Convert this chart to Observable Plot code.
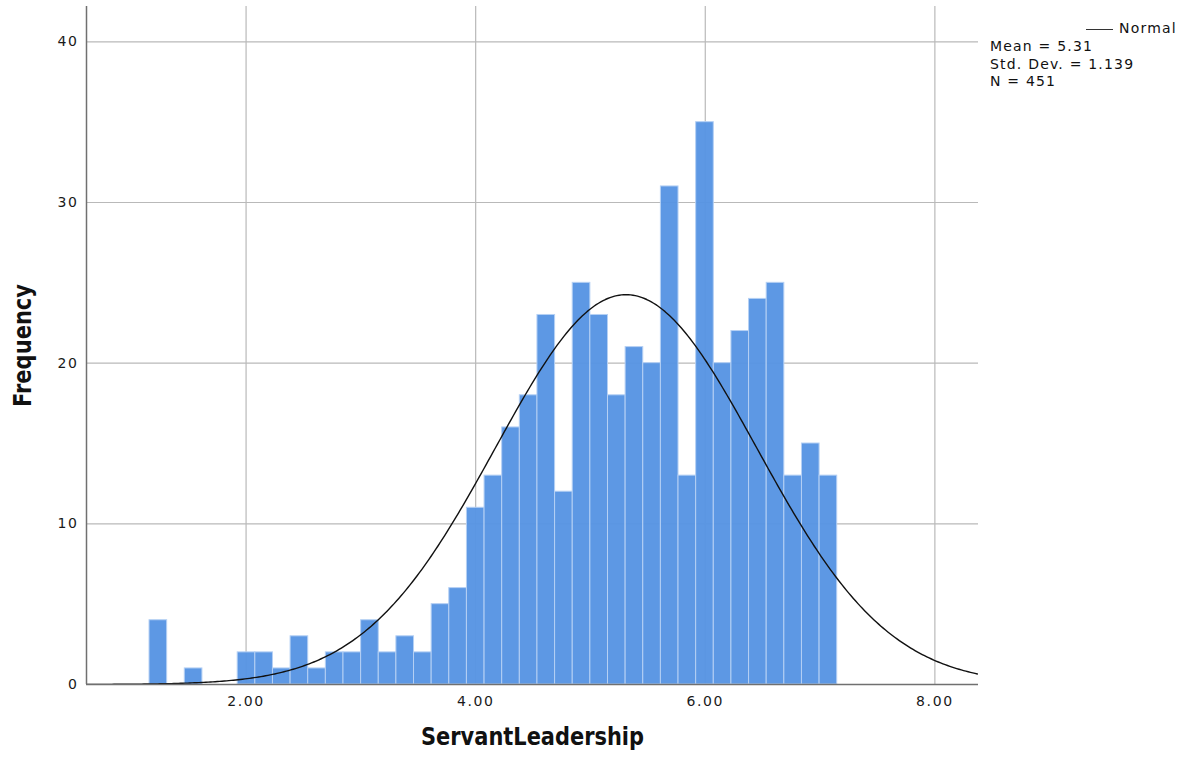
<!DOCTYPE html>
<html>
<head>
<meta charset="utf-8">
<script src="https://cdn.jsdelivr.net/npm/d3@7"></script>
<script src="https://cdn.jsdelivr.net/npm/@observablehq/plot@0.6"></script>
<style>
  html, body { margin: 0; padding: 0; background: #fff; }
  #wrap { position: relative; width: 1188px; height: 762px; }
  .leg { position: absolute; font-family: "DejaVu Sans", sans-serif; font-size: 14px; letter-spacing: 1.2px; color: #111; line-height: 17.5px; white-space: nowrap; }
  svg text { font-family: "DejaVu Sans", sans-serif; }
</style>
</head>
<body>
<div id="wrap">
  <div id="chart"></div>
  <div class="leg" style="left:1086px; top:20px;"><span style="display:inline-block;width:27px;height:0;border-top:1.6px solid #333;vertical-align:middle;margin-right:6px;"></span>Normal</div>
  <div class="leg" style="left:990px; top:38px;">Mean = 5.31<br>Std. Dev. = 1.139<br>N = 451</div>
</div>
<script>
// Histogram counts, one per bin (bins of equal width starting at binStart)
const counts = [4, 0, 1, 0, 0, 2, 2, 1, 3, 1, 2, 2, 4, 2, 3, 2, 5, 6, 11, 13, 16, 18, 23, 12, 25, 23, 18, 21, 20, 31, 13, 35, 20, 22, 24, 25, 13, 15, 13];
const binStart = 1.159;
const binWidth = 0.1536;
const mean = 5.31;
const sd = 1.139;
const n = 451;
const xTicks = [2, 4, 6, 8];
const yTicks = [0, 10, 20, 30, 40];
const xDomain = [0.61, 8.38];
const yDomain = [0, 42.2];
const xTitle = "ServantLeadership";
const yTitle = "Frequency";

const bins = counts.map((c, i) => ({x1: binStart + i * binWidth, x2: binStart + (i + 1) * binWidth, y: c}))
  .filter(d => d.y > 0);

// Normal density curve scaled to the histogram
const curve = d3.range(xDomain[0], xDomain[1] + 0.001, 0.02).map(x => ({
  x, y: n * binWidth * Math.exp(-0.5 * ((x - mean) / sd) ** 2) / (sd * Math.sqrt(2 * Math.PI))
}));

const chart = Plot.plot({
  width: 1188,
  height: 762,
  marginLeft: 86,
  marginRight: 210,
  marginTop: 6,
  marginBottom: 78,
  style: {fontFamily: "DejaVu Sans, sans-serif", fontSize: "14px", color: "#222"},
  x: {domain: xDomain},
  y: {domain: yDomain},
  marks: [
    Plot.gridX(xTicks, {stroke: "#b9b9b9", strokeOpacity: 1, strokeWidth: 1.2}),
    Plot.gridY(yTicks.filter(d => d > 0), {stroke: "#b9b9b9", strokeOpacity: 1, strokeWidth: 1.2}),
    Plot.rectY(bins, {x1: "x1", x2: "x2", y: "y", fill: "#5694e3", fillOpacity: 0.96, stroke: "#b5d0f4", strokeWidth: 1}),
    Plot.line(curve, {x: "x", y: "y", stroke: "#111", strokeWidth: 1.4, clip: true}),
    Plot.ruleX([xDomain[0]], {stroke: "#707070", strokeWidth: 1.5}),
    Plot.ruleY([0], {stroke: "#707070", strokeWidth: 1.5}),
    Plot.axisX(xTicks, {tickSize: 0, tickPadding: 12, tickFormat: d => d.toFixed(2), label: null, fontSize: 14, fill: "#1a1a1a"}),
    Plot.axisY(yTicks, {tickSize: 0, tickPadding: 8, label: null, fontSize: 14, fill: "#1a1a1a"}),
    Plot.text([xTitle], {frameAnchor: "bottom", dy: 60, fontSize: 24, fontWeight: "bold", fill: "#111"}),
    Plot.text([yTitle], {frameAnchor: "left", textAnchor: "middle", rotate: -90, dx: -63, fontSize: 24, fontWeight: "bold", fill: "#111"})
  ]
});
document.getElementById("chart").appendChild(chart);

// tick label letter spacing and condensed axis titles
d3.select(chart).selectAll('g[aria-label="x-axis tick label"] text, g[aria-label="y-axis tick label"] text')
  .style("letter-spacing", "1.6px");
d3.select(chart).selectAll("text").each(function () {
  const t = this.textContent;
  if (t === xTitle) d3.select(this).attr("textLength", 223).attr("lengthAdjust", "spacingAndGlyphs");
  if (t === yTitle) d3.select(this).attr("textLength", 123).attr("lengthAdjust", "spacingAndGlyphs");
});
</script>
</body>
</html>
